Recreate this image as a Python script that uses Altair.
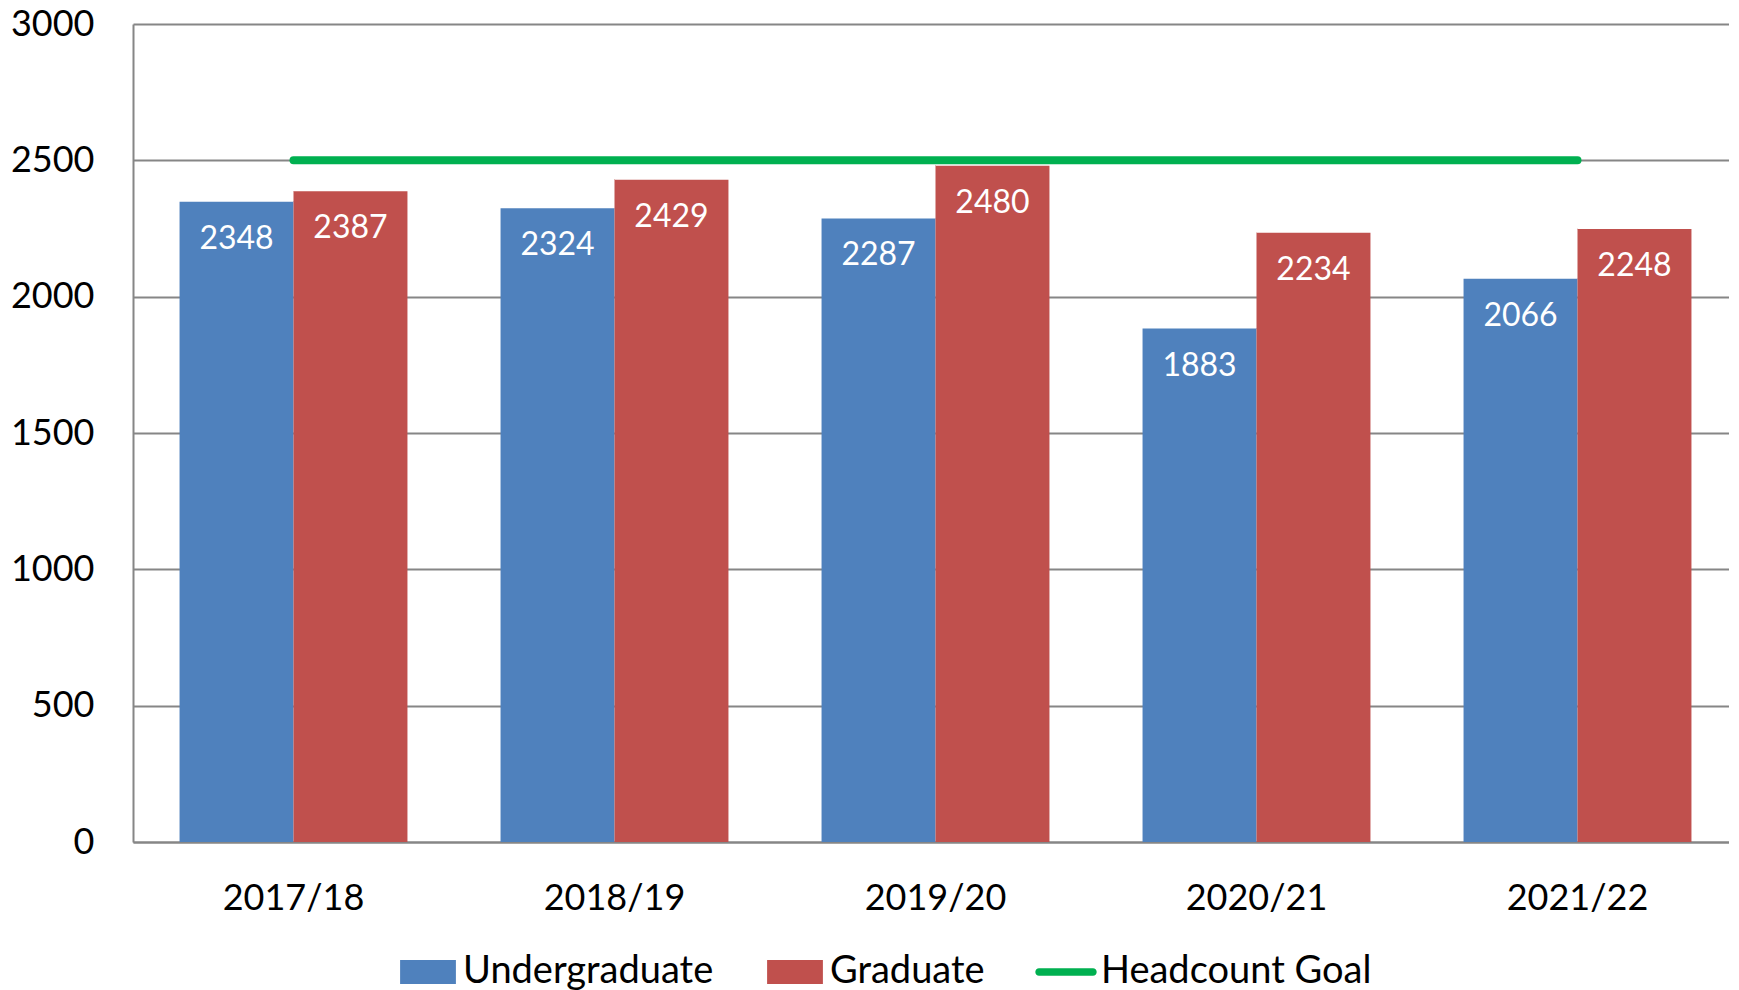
import altair as alt
import pandas as pd

years = ["2017/18", "2018/19", "2019/20", "2020/21", "2021/22"]
undergrad = [2348, 2324, 2287, 1883, 2066]
graduate = [2387, 2429, 2480, 2234, 2248]
goal = [2500, 2500, 2500, 2500, 2500]
series = ["Undergraduate", "Graduate", "Headcount Goal"]
colors = ["#4F81BD", "#C0504D", "#00B050"]
y_ticks = [0, 500, 1000, 1500, 2000, 2500, 3000]

FONT = "Lato"
GRAY = "#868686"

bars_df = pd.DataFrame({
    "year": years * 2,
    "series": [series[0]] * len(years) + [series[1]] * len(years),
    "value": undergrad + graduate,
})
goal_df = pd.DataFrame({"year": years, "series": [series[2]] * len(years), "value": goal})
all_df = pd.concat([bars_df, goal_df], ignore_index=True)

x_scale = alt.Scale(domain=years, paddingInner=0.29, paddingOuter=0.145, range=[0, 1605])
x_axis = alt.Axis(labelAngle=0, labelFontSize=36, labelFont=FONT, labelColor="black",
                  labelPadding=39, ticks=False, domainColor=GRAY, domainWidth=2, grid=False)
y_scale = alt.Scale(domain=[0, 3000], nice=False)
y_axis = alt.Axis(values=y_ticks, format="d", labelFontSize=36, labelFont=FONT, labelColor="black",
                  labelPadding=39, ticks=False, grid=True, gridColor=GRAY, gridWidth=2,
                  domainColor=GRAY, domainWidth=2, labelFlush=False)

rect_path = "M-0.9,-0.39H0.9V0.39H-0.9Z"
line_path = "M-0.87,-0.12H0.87A0.12,0.12 0 0 1 0.87,0.12H-0.87A0.12,0.12 0 0 1 -0.87,-0.12Z"

legend = alt.Legend(
    title=None, orient="none", legendX=264, legendY=917, direction="horizontal",
    symbolSize=3844, labelFontSize=38, labelFont=FONT, labelColor="black",
    labelOffset=4, columnPadding=50, labelLimit=500, symbolStrokeWidth=0,
    symbolOpacity=1,
)
color_scale = alt.Scale(domain=series, range=colors)
shape_scale = alt.Scale(domain=series, range=[rect_path, rect_path, line_path])
xoff = alt.XOffset("series:N", scale=alt.Scale(domain=series[:2], paddingInner=0, paddingOuter=0))

# tiny points underneath everything that carry the legend (colour + shape per series)
legend_points = alt.Chart(all_df).mark_point(filled=True, size=1, strokeWidth=0).encode(
    x=alt.X("year:N", bandPosition=0.5, title=None, scale=x_scale, axis=x_axis),
    y=alt.Y("value:Q", title=None, scale=y_scale, axis=y_axis),
    color=alt.Color("series:N", scale=color_scale, legend=legend),
    shape=alt.Shape("series:N", scale=shape_scale, legend=legend),
)

bars = alt.Chart(bars_df).mark_bar().encode(
    x=alt.X("year:N"),
    xOffset=xoff,
    y=alt.Y("value:Q"),
    color=alt.Color("series:N", scale=color_scale, legend=legend),
)

labels = alt.Chart(bars_df).mark_text(color="white", fontSize=32, font=FONT,
                                      baseline="middle", dy=37).encode(
    x=alt.X("year:N"),
    xOffset=xoff,
    y=alt.Y("value:Q"),
    text=alt.Text("value:Q"),
)

line = alt.Chart(goal_df).mark_line(strokeWidth=8, strokeCap="round", color=colors[2]).encode(
    x=alt.X("year:N", bandPosition=0.5),
    y=alt.Y("value:Q"),
)

chart = alt.layer(legend_points, bars, labels, line).properties(
    width=1596, height=818,
    autosize=alt.AutoSizeParams(type="none"),
    padding={"left": 125, "top": 16, "right": 0, "bottom": 150},
    background="white",
).configure_view(stroke=None)

chart.save("out.html", embed_options={"renderer": "svg", "actions": False})
